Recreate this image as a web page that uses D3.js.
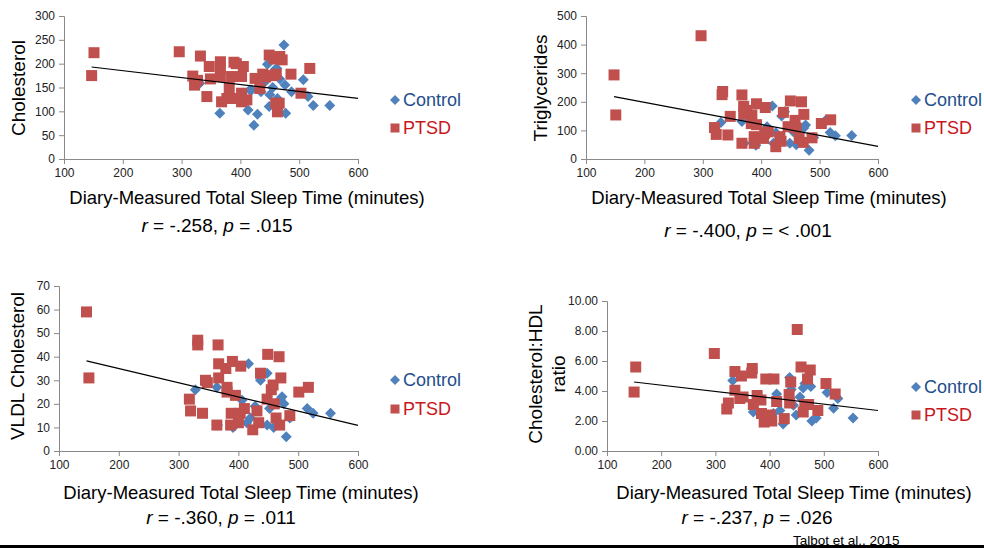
<!DOCTYPE html>
<html><head><meta charset="utf-8">
<script src="https://cdn.jsdelivr.net/npm/d3@7"></script>
<style>
html,body{margin:0;padding:0;background:#fff;}
svg{display:block;font-family:"Liberation Sans",Arial,sans-serif;}
</style></head>
<body>
<svg id="chart" width="984" height="548"></svg>
<script>
// ---------- data ----------
const groups = ["Control", "PTSD"];
const xTicks = [100, 200, 300, 400, 500, 600];

const cholControl = [[474,239],[446,199],[462,190],[507,166],[476,155],[487,141],[515,131],[524,112],[552,112],[365,96],[416,145],[413,103],[429,94],[423,71],[449,110],[477,96],[435,141],[450,135],[463,127],[331,159],[419,145],[459,188],[467,168],[440,160],[455,150]];
const cholPTSD = [[151,223],[147,175],[296,225],[332,216],[319,174],[322,155],[347,194],[349,168],[343,131],[327,165],[366,204],[366,190],[366,173],[368,120],[377,127],[381,150],[389,203],[393,200],[405,194],[385,173],[402,173],[388,127],[402,138],[402,120],[411,124],[425,169],[438,178],[433,148],[443,172],[449,218],[457,210],[467,215],[471,208],[455,175],[461,178],[486,178],[518,190],[503,138],[460,117],[466,117],[463,99]];

const trigControl = [[331,128],[419,185],[435,150],[476,119],[473,108],[518,93],[527,81],[555,82],[482,31],[367,131],[421,55],[449,55],[460,50],[410,113],[371,55],[391,48],[425,92],[490,75],[440,165],[455,95],[510,135]];
const trigPTSD = [[297,431],[148,294],[151,154],[334,236],[333,225],[367,224],[370,184],[392,193],[407,180],[370,157],[384,154],[347,149],[383,124],[392,120],[320,110],[323,86],[343,84],[367,55],[388,55],[388,78],[404,72],[406,90],[425,43],[432,78],[434,62],[438,163],[450,203],[469,200],[458,135],[473,156],[446,113],[460,108],[465,72],[472,58],[487,74],[503,124],[519,137],[375,170],[412,95]];

const vldlControl = [[328,26],[364,27],[417,37],[437,30],[448,33],[406,21.5],[428,19],[452,18],[473,23],[476,20],[515,18],[525,16],[554,16],[480,6],[391,10],[414,12],[448,11],[459,10],[420,14],[486,14],[365,11],[470,22]];
const vldlPTSD = [[146,59],[150,31],[332,47],[332,45],[366,45],[367,37],[390,38],[379,35],[404,36],[367,31],[345,30],[348,29],[381,27],[381,25],[395,23.6],[318,22],[320,17],[340,16],[364,11],[388,16],[387,11],[403,16],[400,12],[410,18],[424,9],[431,17],[434,12],[449,41],[468,40],[437,33],[471,31],[458,28],[455,26],[448,22],[460,20],[463,14],[469,11],[486,15],[501,25],[517,27]];

const ratioControl = [[332,4.7],[437,4.9],[462,4.2],[476,4.3],[506,3.9],[526,3.5],[518,2.85],[554,2.2],[413,3.8],[370,2.6],[425,1.8],[449,2.4],[478,2.0],[486,2.2],[419,2.7],[444,3.05],[456,3.6],[407,2.5],[465,4.5],[440,4.1]];
const ratioPTSD = [[153,5.6],[150,3.93],[298,6.5],[451,8.1],[336,5.3],[368,5.5],[367,5.2],[348,5.0],[393,4.8],[408,4.8],[458,5.6],[475,5.4],[470,4.8],[439,4.6],[504,4.5],[521,3.8],[336,4.05],[345,3.5],[351,3.6],[324,3.2],[321,2.8],[377,3.7],[384,3.4],[370,3.1],[385,2.5],[401,2.4],[390,1.93],[404,2.0],[413,3.3],[436,3.76],[437,3.2],[427,2.16],[462,2.6],[465,3.1],[472,3.1],[489,2.7]];

const cholTrend = [[147,193],[600,127]];
const trigTrend = [[148,218],[600,44]];
const vldlTrend = [[146,38.2],[600,10.9]];
const ratioTrend = [[150,4.6],[600,2.7]];

const cholTicks = [0,50,100,150,200,250,300];
const trigTicks = [0,100,200,300,400,500];
const vldlTicks = [0,10,20,30,40,50,60,70];
const ratioTicks = [0,2,4,6,8,10];

const xTitle = "Diary-Measured Total Sleep Time (minutes)";
const stats = [
  {r: "-.258", p: ".015"},
  {r: "-.400", p: "< .001"},
  {r: "-.360", p: ".011"},
  {r: "-.237", p: ".026"}
];
const yTitles = [["Cholesterol"], ["Triglycerides"], ["VLDL Cholesterol"], ["Cholesterol:HDL", "ratio"]];
const credit = "Talbot et al., 2015";

// ---------- layout ----------
const panels = [
  {ctrl: cholControl, ptsd: cholPTSD, trend: cholTrend, yTicks: cholTicks, fmt: d3.format("d"),
   L:64, R:358, T:16, B:159, ylx:[18], yly:88, xlx:247, xly:204, rx:217, ry:232, lgx:395, lgy:[100,128]},
  {ctrl: trigControl, ptsd: trigPTSD, trend: trigTrend, yTicks: trigTicks, fmt: d3.format("d"),
   L:586, R:878, T:16, B:159, ylx:[540], yly:88, xlx:769, xly:204, rx:748, ry:237, lgx:916, lgy:[100,128]},
  {ctrl: vldlControl, ptsd: vldlPTSD, trend: vldlTrend, yTicks: vldlTicks, fmt: d3.format("d"),
   L:59, R:358, T:286, B:451, ylx:[17], yly:366, xlx:241, xly:499, rx:221, ry:524, lgx:395, lgy:[380,409]},
  {ctrl: ratioControl, ptsd: ratioPTSD, trend: ratioTrend, yTicks: ratioTicks, fmt: d3.format(".2f"),
   L:607, R:878, T:301, B:451, ylx:[535,558], yly:374, xlx:794, xly:499, rx:757, ry:524, lgx:916, lgy:[387,415]}
];

const blue = "#4F81BD", red = "#C0504D", axisCol = "#898989";
const svg = d3.select("#chart");

const diamond = d3.symbol().type(d3.symbolDiamond2 || d3.symbolSquare2);
function drawDiamond(g, cx, cy, s) {
  g.append("path")
   .attr("d", `M${cx},${cy-s}L${cx+s},${cy}L${cx},${cy+s}L${cx-s},${cy}Z`)
   .attr("fill", blue);
}
function drawSquare(g, cx, cy, s) {
  g.append("rect").attr("x", cx-s).attr("y", cy-s).attr("width", 2*s).attr("height", 2*s)
   .attr("fill", red);
}

panels.forEach((p, i) => {
  const yMax = p.yTicks[p.yTicks.length-1];
  const x = d3.scaleLinear().domain([100, 600]).range([p.L, p.R]);
  const y = d3.scaleLinear().domain([0, yMax]).range([p.B, p.T]);
  const g = svg.append("g");

  // axes
  const ya = g.append("g").attr("transform", `translate(${p.L},0)`)
    .call(d3.axisLeft(y).tickValues(p.yTicks).tickFormat(p.fmt).tickSize(5).tickPadding(4));
  const xa = g.append("g").attr("transform", `translate(0,${p.B})`)
    .call(d3.axisBottom(x).tickValues(xTicks).tickFormat(d3.format("d")).tickSize(5).tickPadding(4));
  [ya, xa].forEach(a => {
    a.select(".domain").attr("stroke", axisCol);
    a.selectAll(".tick line").attr("stroke", axisCol);
    a.selectAll(".tick text").attr("fill", "#222").style("font-size", "12px")
      .style("font-family", '"Liberation Sans",Arial,sans-serif');
  });

  // points
  const pts = g.append("g");
  p.ctrl.forEach(d => drawDiamond(pts, x(d[0]), y(d[1]), 5.5));
  p.ptsd.forEach(d => drawSquare(pts, x(d[0]), y(d[1]), 5.5));

  // trend line
  g.append("line")
    .attr("x1", x(p.trend[0][0])).attr("y1", y(p.trend[0][1]))
    .attr("x2", x(p.trend[1][0])).attr("y2", y(p.trend[1][1]))
    .attr("stroke", "#000").attr("stroke-width", 1.2);

  // y title
  const lines = yTitles[i];
  lines.forEach((t, k) => {
    g.append("text")
      .attr("transform", `translate(${p.ylx[k]},${p.yly}) rotate(-90)`)
      .attr("text-anchor", "middle").attr("dy", "0.35em")
      .style("font-size", "19px").attr("fill", "#000").text(t);
  });

  // x title
  g.append("text").attr("x", p.xlx).attr("y", p.xly).attr("text-anchor", "middle")
    .style("font-size", "18.5px").attr("fill", "#000").text(xTitle);

  // stats
  const st = g.append("text").attr("x", p.rx).attr("y", p.ry).attr("text-anchor", "middle")
    .style("font-size", "19px").attr("fill", "#000");
  st.append("tspan").style("font-style", "italic").text("r");
  st.append("tspan").text(` = ${stats[i].r}, `);
  st.append("tspan").style("font-style", "italic").text("p");
  st.append("tspan").text(` = ${stats[i].p}`);

  // legend
  drawDiamond(g, p.lgx, p.lgy[0], 5);
  g.append("text").attr("x", p.lgx + 8).attr("y", p.lgy[0]).attr("dy", "0.35em")
    .style("font-size", "18px").attr("fill", "#1F4E8C").text(groups[0]);
  drawSquare(g, p.lgx, p.lgy[1], 4.5);
  g.append("text").attr("x", p.lgx + 8).attr("y", p.lgy[1]).attr("dy", "0.35em")
    .style("font-size", "18px").attr("fill", "#C8161D").text(groups[1]);
});

svg.append("text").attr("x", 793).attr("y", 545).style("font-size", "13.5px")
  .attr("fill", "#000").text(credit);
svg.append("line").attr("x1", 0).attr("x2", 984).attr("y1", 546.5).attr("y2", 546.5)
  .attr("stroke", "#000").attr("stroke-width", 3);
</script>
</body></html>
